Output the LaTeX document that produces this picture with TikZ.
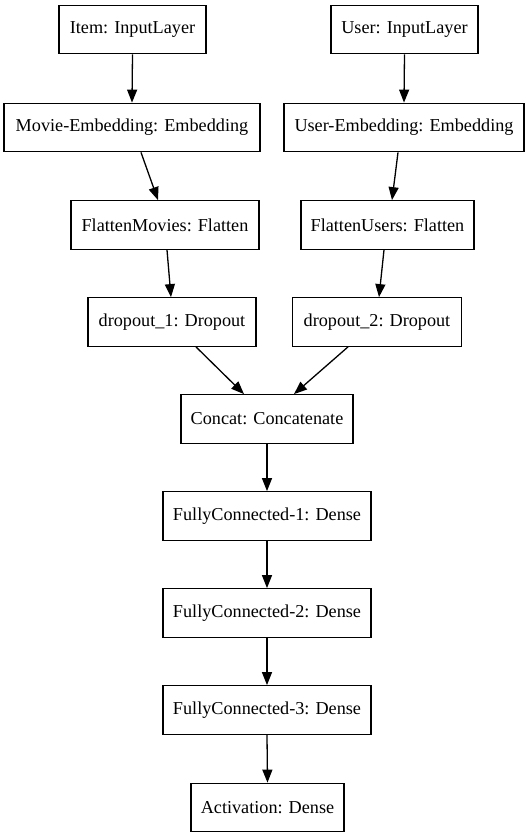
\documentclass[tikz,border=0pt]{standalone}
\usepackage{fontspec}
\newfontfamily\gvfont{Liberation Serif}
\usetikzlibrary{arrows.meta}
\begin{document}
\begin{tikzpicture}[x=1pt,y=-1pt,
  layer/.style={draw,line width=1.3pt,minimum height=48.5pt,inner sep=0pt,
    font=\gvfont\fontsize{18.2}{22}\selectfont},
  arr/.style={line width=1.3pt,-{Triangle[length=13pt,width=10pt]}}]
\useasboundingbox (0,0) rectangle (530,839);
\node[layer,minimum width=147pt] (item) at (132.5,29.5) {Item: InputLayer};
\node[layer,minimum width=147pt] (user) at (404.5,29.5) {User: InputLayer};
\node[layer,minimum width=256pt] (me) at (132,127.5) {Movie-Embedding: Embedding};
\node[layer,minimum width=240pt] (ue) at (404,127.5) {User-Embedding: Embedding};
\node[layer,minimum width=188pt] (fm) at (165,225) {FlattenMovies: Flatten};
\node[layer,minimum width=173pt] (fu) at (387.5,225) {FlattenUsers: Flatten};
\node[layer,minimum width=168pt] (d1) at (172,322) {dropout\_1: Dropout};
\node[layer,minimum width=169pt] (d2) at (377,322) {dropout\_2: Dropout};
\node[layer,minimum width=172pt] (cc) at (267,419) {Concat: Concatenate};
\node[layer,minimum width=208pt] (f1) at (267,516) {FullyConnected-1: Dense};
\node[layer,minimum width=208pt] (f2) at (267,613) {FullyConnected-2: Dense};
\node[layer,minimum width=208pt] (f3) at (267,710) {FullyConnected-3: Dense};
\node[layer,minimum width=153pt] (act) at (267.5,807.5) {Activation: Dense};
\draw[arr] (item.south) -- (me.north);
\draw[arr] (user.south) -- (ue.north);
\draw[arr] ([xshift=9pt]me.south) -- ([xshift=-7pt]fm.north);
\draw[arr] ([xshift=-6pt]ue.south) -- ([xshift=4.5pt]fu.north);
\draw[arr] ([xshift=2pt]fm.south) -- ([xshift=-1pt]d1.north);
\draw[arr] ([xshift=-3.5pt]fu.south) -- ([xshift=2pt]d2.north);
\draw[arr] ([xshift=24pt]d1.south) -- ([xshift=-23pt]cc.north);
\draw[arr] ([xshift=-29pt]d2.south) -- ([xshift=27pt]cc.north);
\draw[arr] (cc.south) -- (f1.north);
\draw[arr] (f1.south) -- (f2.north);
\draw[arr] (f2.south) -- (f3.north);
\draw[arr] (f3.south) -- (act.north);
\end{tikzpicture}
\end{document}
